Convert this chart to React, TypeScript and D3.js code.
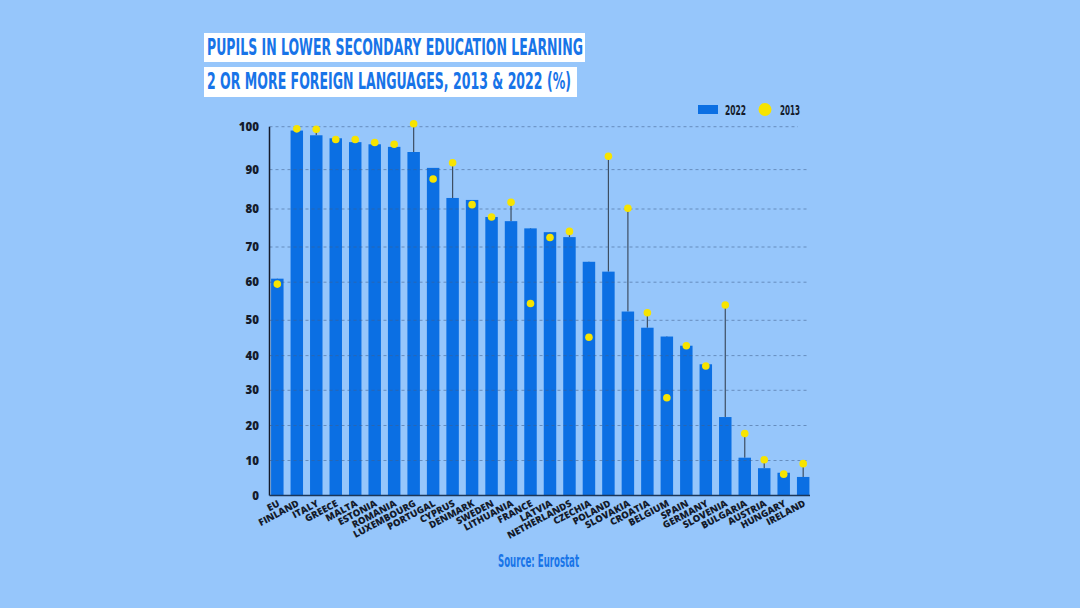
import { useRef, useEffect } from "react";
import * as d3 from "d3";

const countries = [
  "EU", "FINLAND", "ITALY", "GREECE", "MALTA", "ESTONIA", "ROMANIA",
  "LUXEMBOURG", "PORTUGAL", "CYPRUS", "DENMARK", "SWEDEN", "LITHUANIA",
  "FRANCE", "LATVIA", "NETHERLANDS", "CZECHIA", "POLAND", "SLOVAKIA",
  "CROATIA", "BELGIUM", "SPAIN", "GERMANY", "SLOVENIA", "BULGARIA",
  "AUSTRIA", "HUNGARY", "IRELAND",
];

const values2022 = [
  61.0, 99.1, 98.0, 97.3, 96.4, 95.9, 95.3, 94.1, 90.4, 82.8, 82.3, 77.9,
  76.8, 74.9, 73.9, 72.6, 65.8, 63.0, 52.3, 47.9, 45.4, 42.8, 37.5, 22.4,
  10.8, 7.8, 6.5, 5.3,
];

const values2013 = [
  59.5, 99.5, 99.4, 97.0, 97.0, 96.3, 95.9, 100.7, 87.6, 91.6, 81.1, 77.9,
  81.7, 54.4, 72.5, 74.1, 45.2, 93.1, 80.2, 52.0, 27.9, 42.8, 37.0, 54.0,
  17.7, 10.2, 6.1, 9.1,
];

const yTicks = [0, 10, 20, 30, 40, 50, 60, 70, 80, 90, 100];

const titleLines = [
  "PUPILS IN LOWER SECONDARY EDUCATION LEARNING",
  "2 OR MORE FOREIGN LANGUAGES, 2013 & 2022 (%)",
];

const legendLabels = ["2022", "2013"];
const sourceText = "Source: Eurostat";

const W = 1080;
const H = 608;
const BG = "#96c6fb";
const BAR = "#0b6fe3";
const DOT = "#f7e400";
const TITLE_BLUE = "#1874e8";
const INK = "#141b2b";
const CONDENSED = "'DejaVu Sans', sans-serif";
const LABEL_FONT = "'Open Sans', 'Noto Sans', sans-serif";

const App = () => {
  const ref = useRef<SVGSVGElement>(null);

  useEffect(() => {
    document.body.style.margin = "0";
    if (!ref.current) return;
    const svg = d3.select(ref.current);
    svg.selectAll("*").remove();

    const data = countries.map((c, i) => ({
      name: c,
      v22: values2022[i],
      v13: values2013[i],
    }));

    svg.append("rect").attr("width", W).attr("height", H).attr("fill", BG);

    // condensed bold text squeezed to the width seen in the source
    const narrow = (
      sel: d3.Selection<SVGTextElement, unknown, null, undefined>,
      size: number,
      len: number
    ) =>
      sel
        .attr("textLength", len)
        .attr("lengthAdjust", "spacingAndGlyphs")
        .style("font-family", CONDENSED)
        .style("font-stretch", "condensed")
        .style("font-weight", "700")
        .style("font-size", `${size}px`);

    // title boxes
    const boxes = [
      { x: 204, y: 33, w: 381, h: 29, base: 54.5, len: 376 },
      { x: 204, y: 67, w: 373, h: 30, base: 88.5, len: 364 },
    ];
    boxes.forEach((b, i) => {
      svg.append("rect")
        .attr("x", b.x).attr("y", b.y).attr("width", b.w).attr("height", b.h)
        .attr("fill", "#ffffff");
      narrow(
        svg.append("text").attr("x", b.x + 3).attr("y", b.base),
        23,
        b.len
      )
        .attr("fill", TITLE_BLUE)
        .text(titleLines[i]);
    });

    const axisX = 269.5;
    const right = 808;
    const x = d3.scaleBand<string>()
      .domain(countries)
      .range([270.5, 810])
      .paddingInner(0.36)
      .paddingOuter(0.03);

    // the source grid is not evenly spaced, so map each tick to its line
    const gridRange = [495.5, 460.5, 425.5, 390.3, 355.6, 320.3, 282.2, 247, 209, 169.6, 126.7];
    const y = d3.scaleLinear().domain(yTicks).range(gridRange);

    const chart = svg.append("g");

    // connector lines (behind bars)
    chart.selectAll(".conn")
      .data(data)
      .enter()
      .append("line")
      .attr("x1", (d) => x(d.name)! + x.bandwidth() / 2)
      .attr("x2", (d) => x(d.name)! + x.bandwidth() / 2)
      .attr("y1", (d) => y(d.v13))
      .attr("y2", (d) => y(d.v22))
      .attr("stroke", "#3d4e62")
      .attr("stroke-width", 1.2);

    chart.selectAll(".bar")
      .data(data)
      .enter()
      .append("rect")
      .attr("x", (d) => x(d.name)!)
      .attr("y", (d) => y(d.v22))
      .attr("width", x.bandwidth())
      .attr("height", (d) => y(0) - y(d.v22))
      .attr("fill", BAR);

    // dashed grid
    chart.selectAll(".grid")
      .data(yTicks.slice(1))
      .enter()
      .append("line")
      .attr("x1", axisX)
      .attr("x2", (d) => (d === 100 ? 798 : right))
      .attr("y1", (d) => y(d))
      .attr("y2", (d) => y(d))
      .attr("stroke", "#3f5f8c")
      .attr("stroke-opacity", 0.55)
      .attr("stroke-width", 1)
      .attr("stroke-dasharray", "3,3");

    // axes
    chart.append("line")
      .attr("x1", axisX).attr("x2", axisX)
      .attr("y1", y(100)).attr("y2", y(0))
      .attr("stroke", INK).attr("stroke-width", 1.5);
    chart.append("line")
      .attr("x1", axisX).attr("x2", 810)
      .attr("y1", y(0)).attr("y2", y(0))
      .attr("stroke", "#1b3658").attr("stroke-width", 1.5);

    chart.selectAll(".ytick")
      .data(yTicks)
      .enter()
      .append("text")
      .attr("x", 259)
      .attr("y", (d) => y(d))
      .attr("dy", "0.36em")
      .attr("text-anchor", "end")
      .style("font-family", LABEL_FONT)
      .style("font-weight", "800")
      .style("font-size", "11.5px")
      .attr("fill", INK)
      .text((d) => String(d));

    // 2013 dots
    chart.selectAll(".dot")
      .data(data)
      .enter()
      .append("circle")
      .attr("cx", (d) => x(d.name)! + x.bandwidth() / 2)
      .attr("cy", (d) => y(d.v13))
      .attr("r", 3.8)
      .attr("fill", DOT);

    // country labels
    chart.selectAll(".xlabel")
      .data(data)
      .enter()
      .append("text")
      .attr("transform", (d) =>
        `translate(${x(d.name)! + x.bandwidth() / 2 + 3},${y(0) + 10}) rotate(-28)`)
      .attr("text-anchor", "end")
      .style("font-family", LABEL_FONT)
      .style("font-weight", "800")
      .style("font-size", "9.6px")
      .attr("fill", INK)
      .text((d) => d.name);

    // legend
    const lg = svg.append("g");
    lg.append("rect")
      .attr("x", 698).attr("y", 105).attr("width", 20).attr("height", 9)
      .attr("fill", BAR);
    narrow(lg.append("text").attr("x", 725).attr("y", 114.5), 14.5, 21)
      .attr("fill", INK)
      .text(legendLabels[0]);
    lg.append("circle")
      .attr("cx", 765).attr("cy", 109.5).attr("r", 6.5)
      .attr("fill", DOT);
    narrow(lg.append("text").attr("x", 780).attr("y", 114.5), 14.5, 20)
      .attr("fill", INK)
      .text(legendLabels[1]);

    narrow(svg.append("text").attr("x", 498).attr("y", 567), 17.5, 81)
      .attr("fill", TITLE_BLUE)
      .text(sourceText);

    return () => {
      svg.selectAll("*").remove();
    };
  }, []);

  return (
    <svg
      ref={ref}
      width={W}
      height={H}
      style={{ position: "absolute", left: 0, top: 0, display: "block" }}
    ></svg>
  );
};

export default App;
